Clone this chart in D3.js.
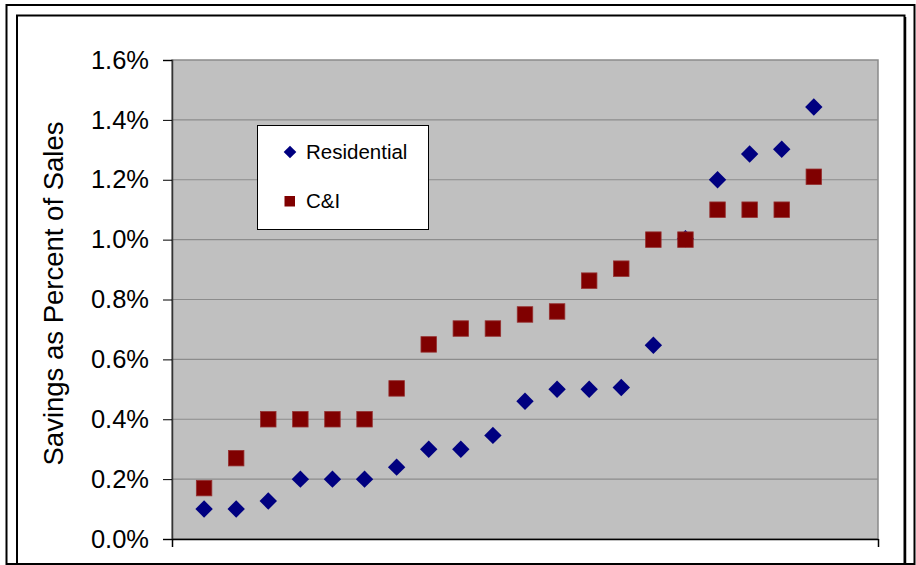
<!DOCTYPE html>
<html>
<head>
<meta charset="utf-8">
<script src="https://cdn.jsdelivr.net/npm/d3@7"></script>
<style>
  html, body { margin: 0; padding: 0; background: #ffffff; }
  svg { display: block; font-family: "Liberation Sans", Arial, sans-serif; }
</style>
</head>
<body>
<svg id="chart" width="916" height="565"></svg>
<script>
// Program index (x) and savings as share of sales for each sector
const programs = [1, 2, 3, 4, 5, 6, 7, 8, 9, 10, 11, 12, 13, 14, 15, 16, 17, 18, 19, 20];
const residential = [0.0010, 0.0010, 0.00127, 0.0020, 0.0020, 0.0020, 0.0024, 0.0030, 0.0030, 0.00346,
                     0.0046, 0.0050, 0.0050, 0.00506, 0.00647, 0.01003, 0.0120, 0.01286, 0.01302, 0.01443];
const commercial = [0.0017, 0.0027, 0.0040, 0.0040, 0.0040, 0.0040, 0.00503, 0.0065, 0.00703, 0.00703,
                    0.0075, 0.0076, 0.00863, 0.00903, 0.0100, 0.0100, 0.0110, 0.0110, 0.0110, 0.0121];
const yTicks = [0, 0.002, 0.004, 0.006, 0.008, 0.010, 0.012, 0.014, 0.016];
const seriesNames = ["Residential", "C&I"];

const svg = d3.select("#chart");

// Frames around the chart
svg.append("rect").attr("x", 6.5).attr("y", 5).attr("width", 908).attr("height", 559)
  .attr("fill", "none").attr("stroke", "#000").attr("stroke-width", 2);
svg.append("rect").attr("x", 17).attr("y", 15.5).attr("width", 887.5).attr("height", 570)
  .attr("fill", "none").attr("stroke", "#000").attr("stroke-width", 2);
svg.append("line").attr("x1", 905.5).attr("x2", 905.5).attr("y1", 17).attr("y2", 565)
  .attr("stroke", "#000").attr("stroke-width", 1.5);

const plot = { left: 172, right: 878, top: 60, bottom: 539 };

const x = d3.scaleLinear().domain([0, 22]).range([plot.left, plot.right]);
const y = d3.scaleLinear().domain([0, 0.016]).range([plot.bottom, plot.top]);

// Plot background
svg.append("rect")
  .attr("x", plot.left).attr("y", plot.top)
  .attr("width", plot.right - plot.left).attr("height", plot.bottom - plot.top)
  .attr("fill", "#c0c0c0").attr("stroke", "#8a8a8a").attr("stroke-width", 1.5);

// Horizontal gridlines
svg.append("g")
  .selectAll("line")
  .data(yTicks.slice(1, -1))
  .join("line")
  .attr("x1", plot.left).attr("x2", plot.right)
  .attr("y1", d => y(d)).attr("y2", d => y(d))
  .attr("stroke", "#8c8c8c").attr("stroke-width", 1.2);

// Y axis
const yAxis = svg.append("g")
  .attr("transform", `translate(${plot.left},0)`)
  .call(d3.axisLeft(y).tickValues(yTicks).tickFormat(d3.format(".1%")).tickSize(9).tickPadding(14));
yAxis.select(".domain").attr("stroke", "#333").attr("stroke-width", 1.5);
yAxis.selectAll(".tick line").attr("stroke", "#000");
yAxis.selectAll(".tick text")
  .attr("font-family", "'Liberation Sans', Arial, sans-serif")
  .attr("font-size", 25.5).attr("fill", "#000");

// X axis: end ticks only, no labels
const xAxis = svg.append("g")
  .attr("transform", `translate(0,${plot.bottom})`)
  .call(d3.axisBottom(x).tickValues([0, 22]).tickFormat("").tickSize(8).tickSizeOuter(0));
xAxis.select(".domain").attr("stroke", "#000").attr("stroke-width", 1.5);
xAxis.selectAll(".tick line").attr("stroke", "#000").attr("stroke-width", 1.5);

// Y axis title
svg.append("text")
  .attr("transform", `translate(${53},${(plot.top + plot.bottom) / 2 - 6}) rotate(-90)`)
  .attr("text-anchor", "middle")
  .attr("dominant-baseline", "central")
  .attr("font-size", 27.5)
  .attr("fill", "#000")
  .text("Savings as Percent of Sales");

const diamond = h => `M0,${-h}L${h},0L0,${h}L${-h},0Z`;

// Residential markers (diamonds)
svg.append("g")
  .selectAll("path")
  .data(programs.map((p, i) => [p, residential[i]]))
  .join("path")
  .attr("d", diamond(8.7))
  .attr("transform", d => `translate(${x(d[0])},${y(d[1])})`)
  .attr("fill", "#000080");

// C&I markers (squares)
const sq = 15.5;
svg.append("g")
  .selectAll("rect")
  .data(programs.map((p, i) => [p, commercial[i]]))
  .join("rect")
  .attr("x", d => x(d[0]) - sq / 2).attr("y", d => y(d[1]) - sq / 2)
  .attr("width", sq).attr("height", sq)
  .attr("fill", "#800000").attr("stroke", "#953030").attr("stroke-width", 0.8);

// Legend
const legend = svg.append("g");
legend.append("rect")
  .attr("x", 257.5).attr("y", 125.5).attr("width", 171).attr("height", 104)
  .attr("fill", "#fff").attr("stroke", "#000").attr("stroke-width", 1);
legend.append("path").attr("d", diamond(6.3))
  .attr("transform", "translate(290,152)").attr("fill", "#000080");
legend.append("rect").attr("x", 284.5).attr("y", 196).attr("width", 10.5).attr("height", 10.5)
  .attr("fill", "#800000");
legend.selectAll("text")
  .data(seriesNames)
  .join("text")
  .attr("x", 306)
  .attr("y", (d, i) => 151 + i * 49.5)
  .attr("dominant-baseline", "central")
  .attr("font-size", 20.5)
  .attr("fill", "#000")
  .text(d => d);
</script>
</body>
</html>
